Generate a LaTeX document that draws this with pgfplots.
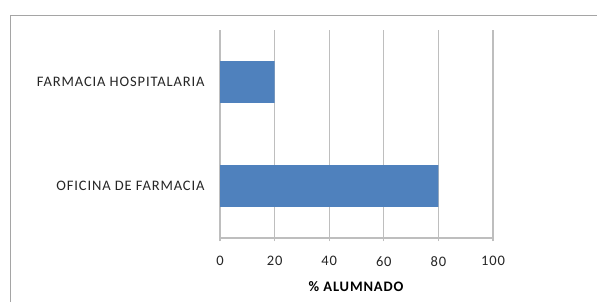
\documentclass[border=0pt]{standalone}
\usepackage{fontspec}
\setmainfont{Carlito}
\newfontfamily\widefont{Carlito}[LetterSpace=6]
\usepackage{pgfplots}
\pgfplotsset{compat=1.18}
\definecolor{barblue}{RGB}{79,129,189}
\definecolor{gridgray}{RGB}{190,190,190}
\definecolor{framegray}{RGB}{165,165,165}
\begin{document}
\begin{tikzpicture}[x=1bp,y=1bp]
\useasboundingbox (0,0) rectangle (597,302);
\fill[white] (0,0) rectangle (597,302);
\draw[framegray, line width=1.2bp] (10.5,0) -- (10.5,286.5) -- (597,286.5);
\begin{axis}[
  at={(220bp,64bp)}, anchor=south west,
  scale only axis, width=273bp, height=208bp,
  xbar, bar width=0.4,
  xmin=0, xmax=100, ymin=-0.5, ymax=1.5,
  xtick={0,20,...,100},
  xmajorgrids, grid style={gridgray, line width=1.2bp},
  axis lines*=left,
  axis line style={gridgray, line width=1.2bp},
  x tick style={gridgray, line width=1.2bp},
  tick align=outside,
  major tick length=3bp,
  ytick={0,1},
  yticklabels={OFICINA DE FARMACIA, FARMACIA HOSPITALARIA},
  ytick style={draw=none},
  extra y ticks={-0.5,0.5,1.5},
  extra y tick labels={},
  extra y tick style={ytick style={gridgray, line width=1.2bp}, major tick length=6bp, tick align=outside, grid=none},
  /pgf/number format/assume math mode=true,
  ticklabel style={font=\widefont\fontsize{14.5bp}{17bp}\selectfont, text=black!85},
  yticklabel style={xshift=-9bp},
  xticklabel style={yshift=-12bp},
  xlabel={\textbf{\% ALUMNADO}},
  xlabel style={font=\widefont\fontsize{14.5bp}{17bp}\selectfont, at={(rel axis cs:0.5,0)}, anchor=center, yshift=-49bp},
]
\addplot[fill=barblue, draw=none] coordinates {(80,0) (20,1)};
\end{axis}
\end{tikzpicture}
\end{document}
